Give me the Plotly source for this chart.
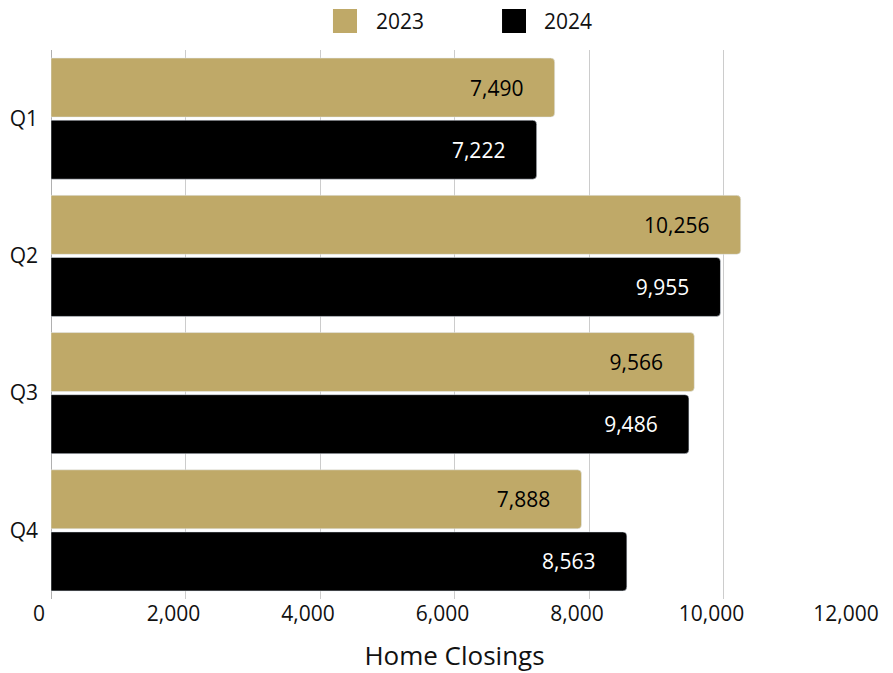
import plotly.graph_objects as go

quarters = ["Q1", "Q2", "Q3", "Q4"]
closings_2023 = [7490, 10256, 9566, 7888]
closings_2024 = [7222, 9955, 9486, 8563]
tick_vals = [0, 2000, 4000, 6000, 8000, 10000, 12000]
tick_text = ["0", "2,000", "4,000", "6,000", "8,000", "10,000", "12,000"]
series_names = ["2023", "2024"]
series_colors = ["#BFA968", "#000000"]

FONT = "Open Sans"
PAD = "\u00a0" * 5

fig = go.Figure()
fig.add_trace(go.Bar(
    y=quarters, x=closings_2023, name=series_names[0], orientation="h",
    marker=dict(color=series_colors[0]),
    text=[f"{v:,}{PAD}" for v in closings_2023], textposition="inside",
    insidetextanchor="end", textangle=0,
    textfont=dict(color="black", size=21, family=FONT),
))
fig.add_trace(go.Bar(
    y=quarters, x=closings_2024, name=series_names[1], orientation="h",
    marker=dict(color=series_colors[1]),
    text=[f"{v:,}{PAD}" for v in closings_2024], textposition="inside",
    insidetextanchor="end", textangle=0,
    textfont=dict(color="white", size=21, family=FONT),
))

# legend drawn in the top margin (large square swatches)
legend_boxes = [(0.3494, 0.3792, 0.4015), (0.5589, 0.5886, 0.6097)]
for (x0, x1, xt), name, col in zip(legend_boxes, series_names, series_colors):
    fig.add_shape(type="rect", xref="paper", yref="paper", x0=x0, x1=x1,
                  y0=1.0310, y1=1.0747, fillcolor=col, line=dict(width=0), layer="above")
    fig.add_annotation(xref="paper", yref="paper", x=xt, y=1.0528, text=name,
                       showarrow=False, xanchor="left", yanchor="middle", borderpad=0,
                       font=dict(size=21, family=FONT, color="#111"))

# page body has an 8px margin, so the figure is sized/offset to compensate
fig.update_layout(
    width=885, height=665,
    margin=dict(l=43, r=35, t=42, b=74, autoexpand=False),
    paper_bgcolor="white", plot_bgcolor="white",
    barmode="group", bargap=0.095, bargroupgap=0.05,
    barcornerradius=4,
    showlegend=False,
    font=dict(family=FONT, size=21, color="#111"),
    xaxis=dict(range=[0, 12000], tickvals=tick_vals, ticktext=tick_text,
               showgrid=True, gridcolor="#cccccc", gridwidth=1,
               zeroline=True, zerolinecolor="#b0b0b0", zerolinewidth=1,
               tickfont=dict(size=21), ticks="", showline=False, automargin=False,
               ticklabelstandoff=0, ticklabelshift=-12,
               title=dict(text="Home Closings", font=dict(size=26), standoff=22)),
    yaxis=dict(autorange="reversed", tickfont=dict(size=21), ticks="",
               showgrid=False, showline=False, ticklabelstandoff=12, automargin=False),
)

fig.write_html("out.html")
